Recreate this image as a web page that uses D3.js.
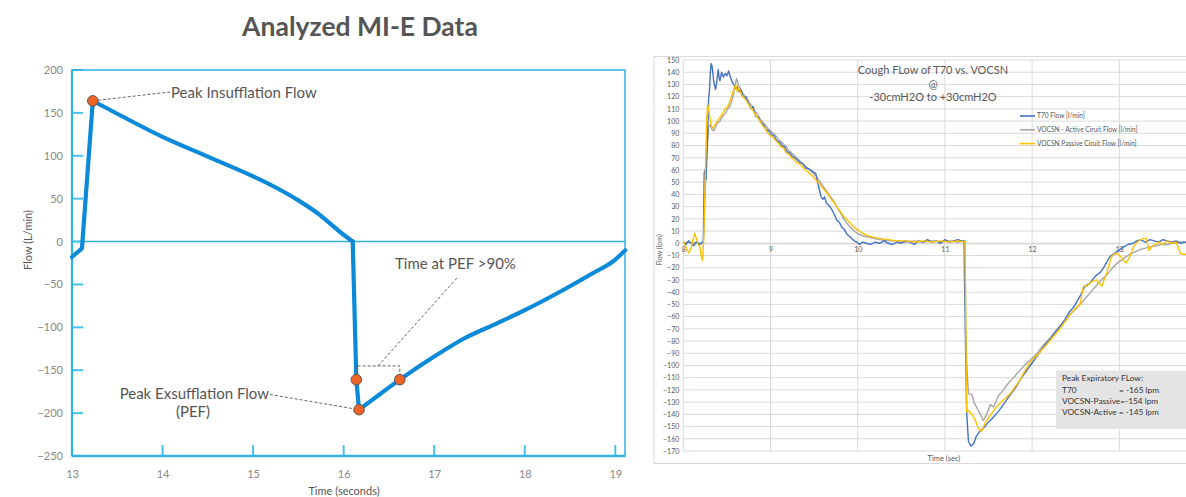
<!DOCTYPE html>
<html><head><meta charset="utf-8">
<script src="https://cdn.jsdelivr.net/npm/d3@7"></script>
<style>html,body{margin:0;padding:0;background:#fff;}svg{display:block;}</style>
</head><body>
<svg id="c" width="1186" height="497"></svg>
<script>
// ---------- Left chart data (Analyzed MI-E Data) ----------
const mieTitle = "Analyzed MI-E Data";
const mieTime = [13.0, 13.11, 13.23, 13.5, 14.0, 14.5, 15.0, 15.25, 15.5, 15.75, 15.95, 16.1, 16.14, 16.17, 16.4, 16.62, 17.0, 17.33, 17.7, 18.0, 18.45, 18.75, 19.0, 19.11];
const mieFlow = [-18, -8, 164, 149, 122, 99, 76, 63, 48, 30, 12, 0, -161, -196, -178, -161, -134, -113, -95, -80, -55, -37, -21, -10];
const mieMarkerIdx = [2, 12, 13, 15];
const mieXTicks = [13, 14, 15, 16, 17, 18, 19];
const mieYTicks = [200, 150, 100, 50, 0, -50, -100, -150, -200, -250];
const mieLabels = ["Peak Insufflation Flow", "Peak Exsufflation Flow", "(PEF)", "Time at PEF >90%"];

// ---------- Right chart data (Cough Flow T70 vs VOCSN) ----------
const coughTitle = ["Cough FLow of T70 vs. VOCSN", "@", "-30cmH2O to +30cmH2O"];
const coughLegend = ["T70 Flow [l/min]", "VOCSN - Active Ciruit  Flow [l/min]", "VOCSN Passive Ciruit  Flow [l/min]"];
const coughNote = ["Peak Expiratory FLow:", "T70", "= -165 lpm", "VOCSN-Passive=-154 lpm", "VOCSN-Active  = -145 lpm"];
const coughXTicks = [8, 9, 10, 11, 12, 13];
const coughYTicks = d3.range(150, -171, -10);
const t70 = [[8.00,1],[8.03,-1],[8.06,2],[8.09,0],[8.12,-2],[8.15,1],[8.18,-1],[8.21,0],[8.23,2],[8.24,58],[8.25,60],[8.26,52],[8.27,70],[8.28,90],[8.29,118],[8.30,125],[8.31,140],[8.32,147],[8.33,145],[8.35,132],[8.37,126],[8.38,130],[8.40,142],[8.41,136],[8.42,133],[8.44,140],[8.46,136],[8.48,139],[8.50,137],[8.52,141],[8.54,136],[8.56,132],[8.58,130],[8.60,127],[8.62,128],[8.64,124],[8.66,126],[8.68,121],[8.70,119],[8.72,120],[8.75,114],[8.78,110],[8.80,112],[8.83,104],[8.86,103],[8.89,99],[8.92,97],[8.95,93],[8.98,92],[9.01,89],[9.04,88],[9.07,84],[9.10,83],[9.13,80],[9.16,79],[9.19,75],[9.22,74],[9.25,71],[9.28,70],[9.31,68],[9.34,66],[9.37,65],[9.40,62],[9.43,61],[9.46,60],[9.50,58],[9.52,57],[9.54,50],[9.56,44],[9.58,38],[9.60,36],[9.62,38],[9.64,33],[9.67,31],[9.70,28],[9.73,24],[9.76,19],[9.79,17],[9.82,13],[9.85,11],[9.87,8],[9.90,6],[9.93,4],[9.96,2],[9.99,1],[10.02,-1],[10.06,1],[10.10,0],[10.15,-1],[10.20,1],[10.25,0],[10.30,2],[10.35,0],[10.40,-1],[10.45,1],[10.50,0],[10.55,2],[10.60,1],[10.65,-1],[10.70,2],[10.75,1],[10.80,3],[10.85,1],[10.90,2],[10.95,0],[11.00,3],[11.05,1],[11.10,2],[11.15,3],[11.19,2],[11.22,2],[11.225,-30],[11.23,-52],[11.24,-100],[11.25,-139],[11.27,-162],[11.30,-166],[11.33,-164],[11.36,-158],[11.40,-154],[11.43,-152],[11.46,-150],[11.49,-147],[11.52,-145],[11.56,-142],[11.61,-138],[11.66,-133],[11.71,-128],[11.76,-123],[11.82,-117],[11.88,-110],[11.94,-104],[12.00,-98],[12.05,-93],[12.10,-88],[12.15,-83],[12.20,-79],[12.26,-73],[12.32,-68],[12.38,-62],[12.43,-56],[12.48,-52],[12.52,-47],[12.56,-42],[12.60,-36],[12.63,-34],[12.66,-33],[12.70,-29],[12.74,-26],[12.78,-24],[12.82,-20],[12.86,-15],[12.89,-11],[12.93,-9],[12.97,-7],[13.01,-5],[13.05,-3],[13.10,-1],[13.16,0],[13.20,2],[13.24,3],[13.30,1],[13.35,3],[13.40,2],[13.45,1],[13.50,3],[13.55,2],[13.60,1],[13.65,2],[13.70,0],[13.77,1]];
const vocsnActive = [[8.00,0],[8.05,1],[8.10,0],[8.15,1],[8.20,0],[8.23,1],[8.25,40],[8.27,75],[8.29,95],[8.31,97],[8.33,93],[8.35,92],[8.37,95],[8.39,98],[8.42,100],[8.45,104],[8.48,106],[8.51,110],[8.54,113],[8.57,120],[8.59,128],[8.61,135],[8.63,130],[8.65,127],[8.67,124],[8.70,121],[8.73,118],[8.76,115],[8.79,112],[8.82,108],[8.85,106],[8.88,102],[8.91,99],[8.94,97],[8.97,94],[9.00,92],[9.03,90],[9.06,88],[9.09,85],[9.12,83],[9.15,81],[9.18,79],[9.21,76],[9.24,74],[9.27,72],[9.30,70],[9.33,68],[9.36,66],[9.40,63],[9.44,61],[9.48,58],[9.52,55],[9.56,51],[9.60,47],[9.64,43],[9.68,39],[9.72,35],[9.76,30],[9.80,25],[9.84,20],[9.88,16],[9.92,13],[9.96,10],[10.00,8],[10.06,6],[10.12,5],[10.18,4],[10.25,3],[10.35,2],[10.45,2],[10.55,1],[10.65,2],[10.75,1],[10.85,2],[10.95,1],[11.05,2],[11.15,1],[11.23,2],[11.24,-68],[11.25,-98],[11.27,-123],[11.31,-124],[11.34,-131],[11.37,-135],[11.40,-139],[11.44,-145],[11.48,-140],[11.52,-132],[11.56,-134],[11.61,-125],[11.66,-121],[11.71,-116],[11.76,-112],[11.80,-109],[11.87,-103],[11.94,-98],[12.00,-94],[12.06,-90],[12.12,-84],[12.20,-78],[12.26,-73],[12.32,-68],[12.38,-63],[12.44,-58],[12.50,-54],[12.55,-50],[12.60,-46],[12.66,-41],[12.72,-36],[12.78,-31],[12.84,-27],[12.89,-23],[12.95,-18],[13.00,-15],[13.06,-12],[13.12,-9],[13.18,-7],[13.24,-5],[13.30,-4],[13.35,-3],[13.42,-2],[13.47,-1],[13.55,-1],[13.62,0],[13.70,1],[13.77,1]];
const vocsnPassive = [[8.00,2],[8.03,-3],[8.06,-8],[8.09,-4],[8.11,3],[8.13,8],[8.15,4],[8.17,-1],[8.19,-3],[8.21,-12],[8.22,-14],[8.235,5],[8.25,49],[8.27,104],[8.28,114],[8.30,105],[8.32,96],[8.34,94],[8.36,97],[8.38,99],[8.40,101],[8.42,103],[8.45,106],[8.48,110],[8.51,112],[8.54,117],[8.56,122],[8.58,126],[8.60,130],[8.62,124],[8.64,127],[8.67,121],[8.70,119],[8.73,116],[8.76,112],[8.79,110],[8.82,106],[8.85,103],[8.88,100],[8.91,96],[8.94,94],[8.97,90],[9.00,88],[9.03,87],[9.06,84],[9.09,82],[9.12,79],[9.15,78],[9.18,74],[9.21,73],[9.24,70],[9.27,69],[9.30,66],[9.33,65],[9.36,63],[9.40,60],[9.44,58],[9.48,55],[9.52,52],[9.56,49],[9.60,45],[9.64,42],[9.68,38],[9.72,34],[9.76,30],[9.80,26],[9.84,22],[9.88,19],[9.92,16],[9.96,13],[10.00,11],[10.06,8],[10.12,6],[10.18,5],[10.25,4],[10.35,3],[10.45,2],[10.55,2],[10.65,1],[10.75,2],[10.85,1],[10.95,2],[11.05,1],[11.15,2],[11.23,1],[11.24,-70],[11.25,-138],[11.27,-137],[11.31,-140],[11.35,-145],[11.38,-151],[11.42,-154],[11.46,-147],[11.50,-143],[11.54,-139],[11.58,-135],[11.63,-131],[11.69,-127],[11.75,-123],[11.80,-118],[11.86,-112],[11.92,-104],[11.97,-98],[12.02,-94],[12.08,-90],[12.14,-85],[12.20,-80],[12.26,-75],[12.32,-70],[12.38,-64],[12.44,-58],[12.50,-53],[12.55,-50],[12.57,-42],[12.59,-35],[12.63,-35],[12.67,-32],[12.70,-31],[12.74,-30],[12.77,-33],[12.80,-35],[12.83,-29],[12.86,-23],[12.89,-16],[12.91,-11],[12.94,-9],[12.97,-8],[13.00,-10],[13.03,-12],[13.06,-15],[13.08,-16],[13.12,-11],[13.15,-5],[13.18,-1],[13.21,1],[13.24,3],[13.28,4],[13.31,4],[13.34,-6],[13.37,-3],[13.41,-1],[13.45,1],[13.50,-1],[13.55,2],[13.60,0],[13.65,1],[13.70,-8],[13.73,-9],[13.77,-9]];

const svg = d3.select("#c");

// ================= LEFT CHART =================
(function(){
  const L = {x0:72, x1:625, y0:70, y1:456};
  const x = d3.scaleLinear().domain([13, 19]).range([72, 615.3]);
  const y = d3.scaleLinear().domain([-250, 200]).range([L.y1, L.y0]);
  const g = svg.append("g");
  const cyan = "#2fb3e0";

  g.append("text").attr("x", 360).attr("y", 36).attr("text-anchor","middle")
    .style("font-family","Lato").style("font-weight","700").style("font-size","26.5px").attr("fill","#555")
    .text(mieTitle);

  g.append("line").attr("x1",L.x0).attr("x2",L.x1).attr("y1",y(0)).attr("y2",y(0))
    .attr("stroke",cyan).attr("stroke-width",1.5);

  const yAx = g.append("g").attr("transform",`translate(${L.x0},0)`)
    .call(d3.axisLeft(y).tickValues(mieYTicks).tickSize(0).tickPadding(9));
  yAx.select(".domain").remove();
  yAx.selectAll("text").style("font-family","Lato").style("font-size","11px").attr("fill","#888");
  g.selectAll(".ytk").data(mieYTicks).join("line").attr("class","ytk")
    .attr("x1",L.x0).attr("x2",L.x0+11).attr("y1",d=>y(d)).attr("y2",d=>y(d))
    .attr("stroke","#48c2ea").attr("stroke-width",2);

  const xAx = g.append("g").attr("transform",`translate(0,${L.y1})`)
    .call(d3.axisBottom(x).tickValues(mieXTicks).tickFormat(d3.format("d")).tickSize(0).tickPadding(14));
  xAx.select(".domain").remove();
  xAx.selectAll("text").style("font-family","Lato").style("font-size","11px").attr("fill","#888");
  g.selectAll(".xtk").data(mieXTicks.slice(1)).join("line").attr("class","xtk")
    .attr("x1",d=>x(d)).attr("x2",d=>x(d)).attr("y1",L.y1).attr("y2",L.y1-11)
    .attr("stroke","#48c2ea").attr("stroke-width",2);

  g.append("rect").attr("x",L.x0).attr("y",L.y0).attr("width",L.x1-L.x0).attr("height",L.y1-L.y0)
    .attr("fill","none").attr("stroke",cyan).attr("stroke-width",1.5);
  g.append("line").attr("x1",L.x0).attr("x2",L.x1).attr("y1",L.y1).attr("y2",L.y1).attr("stroke",cyan).attr("stroke-width",2.5);
  g.append("line").attr("x1",L.x0).attr("x2",L.x0).attr("y1",L.y0).attr("y2",L.y1).attr("stroke",cyan).attr("stroke-width",2.2);

  g.append("text").attr("transform","translate(32,240) rotate(-90)").attr("text-anchor","middle")
    .style("font-family","Lato").style("font-size","11px").attr("fill","#555").text("Flow (L/min)");
  g.append("text").attr("x",344).attr("y",495).attr("text-anchor","middle")
    .style("font-family","Lato").style("font-size","11px").attr("fill","#555").text("Time (seconds)");

  // series: smooth segments where the trace is smooth, straight where it breaks
  const pts = mieTime.map((t,i)=>[t, mieFlow[i]]);
  const lin = d3.line().x(d=>x(d[0])).y(d=>y(d[1]));
  const smooth = d3.line().x(d=>x(d[0])).y(d=>y(d[1])).curve(d3.curveMonotoneX);
  const style = p => p.attr("fill","none").attr("stroke","#0a8ad8").attr("stroke-width",4.2)
    .attr("stroke-linejoin","round").attr("stroke-linecap","round");
  style(g.append("path").attr("d",lin(pts.slice(0,3))));
  style(g.append("path").attr("d",smooth(pts.slice(2,12))));
  style(g.append("path").attr("d",lin(pts.slice(11,14))));
  style(g.append("path").attr("d",smooth(pts.slice(13))));

  const dash = sel => sel.attr("fill","none").attr("stroke","#666").attr("stroke-width",1).attr("stroke-dasharray","3,2");
  const pPIF = pts[2], pA = pts[12], pPEF = pts[13], pB = pts[15];
  dash(g.append("line").attr("x1",x(pPIF[0])).attr("y1",y(pPIF[1])).attr("x2",170).attr("y2",92));
  dash(g.append("line").attr("x1",270).attr("y1",394.5).attr("x2",x(pPEF[0])).attr("y2",y(pPEF[1])));
  const yb = y(-145);
  dash(g.append("path").attr("d",`M${x(pA[0])},${y(pA[1])}V${yb}H${x(pB[0])}V${y(pB[1])}`));
  dash(g.append("line").attr("x1",378).attr("y1",yb).attr("x2",457).attr("y2",278));

  const txt = (s,xx,yy,anchor) => g.append("text").attr("x",xx).attr("y",yy).attr("text-anchor",anchor||"start")
    .style("font-family","Lato").style("font-size","15px").attr("fill","#555").text(s);
  txt(mieLabels[0], 171, 97.5);
  txt(mieLabels[1], 269, 398.5, "end");
  txt(mieLabels[2], 193, 417, "middle");
  txt(mieLabels[3], 395, 268.5);

  g.selectAll(".mk").data(mieMarkerIdx.map(i=>pts[i])).join("circle").attr("class","mk")
    .attr("cx",d=>x(d[0])).attr("cy",d=>y(d[1])).attr("r",5.3)
    .attr("fill","#ec6426").attr("stroke","#5a5a5a").attr("stroke-width",1);
})();

// ================= RIGHT CHART =================
(function(){
  const x = d3.scaleLinear().domain([8, 13]).range([683.3, 1119.3]);
  const y = d3.scaleLinear().domain([-170, 150]).range([451, 60]);
  const g = svg.append("g");
  const font = "Lato";

  g.append("rect").attr("x",654).attr("y",56.5).attr("width",540).attr("height",407)
    .attr("fill","#fff").attr("stroke","#d9d9d9").attr("stroke-width",1);

  g.selectAll(".hg").data(coughYTicks).join("line").attr("class","hg")
    .attr("x1",683.3).attr("x2",1186).attr("y1",d=>y(d)).attr("y2",d=>y(d))
    .attr("stroke","#d9d9d9").attr("stroke-width",1);
  g.selectAll(".vg").data(coughXTicks).join("line").attr("class","vg")
    .attr("x1",d=>x(d)).attr("x2",d=>x(d)).attr("y1",y(150)).attr("y2",y(-170))
    .attr("stroke","#d9d9d9").attr("stroke-width",1);

  const yAx = g.append("g").attr("transform","translate(683.3,0)")
    .call(d3.axisLeft(y).tickValues(coughYTicks).tickSize(0).tickPadding(4));
  yAx.select(".domain").remove();
  yAx.selectAll("text").style("font-family",font).style("font-size","7px").attr("fill","#595959");
  const xAx = g.append("g").attr("transform",`translate(0,${y(0)})`)
    .call(d3.axisBottom(x).tickValues(coughXTicks).tickFormat(d3.format("d")).tickSize(0).tickPadding(4));
  xAx.select(".domain").attr("stroke","#d0d0d0");
  xAx.selectAll("text").style("font-family",font).style("font-size","7px").attr("fill","#595959");

  g.append("text").attr("transform","translate(662,250) rotate(-90)").attr("text-anchor","middle")
    .style("font-family",font).style("font-size","7px").attr("fill","#595959").text("Flow (lpm)");
  g.append("text").attr("x",944).attr("y",461).attr("text-anchor","middle")
    .style("font-family",font).style("font-size","7.5px").attr("fill","#595959").text("Time (sec)");

  coughTitle.forEach((s,i)=>g.append("text").attr("x",933).attr("y",74+i*13.5).attr("text-anchor","middle")
    .style("font-family",font).style("font-size","11px").attr("fill","#595959").text(s));

  g.append("clipPath").attr("id","rc").append("rect").attr("x",683.3).attr("y",56).attr("width",510).attr("height",400);
  const line = d3.line().x(d=>x(d[0])).y(d=>y(d[1]));
  const series = [
    {d:vocsnActive, c:"#a5a5a5"},
    {d:t70, c:"#4472c4"},
    {d:vocsnPassive, c:"#ffc000"}
  ];
  const sg = g.append("g").attr("clip-path","url(#rc)");
  series.forEach(s=>sg.append("path").attr("d",line(s.d)).attr("fill","none").attr("stroke",s.c)
    .attr("stroke-width",1.4).attr("stroke-linejoin","round"));

  const legColors = ["#4472c4","#a5a5a5","#ffc000"];
  coughLegend.forEach((s,i)=>{
    const yy = 116 + i*13.8;
    g.append("line").attr("x1",1020).attr("x2",1035).attr("y1",yy).attr("y2",yy).attr("stroke",legColors[i]).attr("stroke-width",1.6);
    g.append("text").attr("x",1037).attr("y",yy+2.3).style("font-family",font).style("font-size","6.6px")
      .attr("fill","#595959").text(s);
  });

  g.append("rect").attr("x",1056).attr("y",370.5).attr("width",140).attr("height",58.5).attr("fill","#e4e4e4");
  const nt = (s,xx,yy)=>g.append("text").attr("x",xx).attr("y",yy).style("font-family",font).style("font-size","8.3px")
    .attr("fill","#333").text(s);
  nt(coughNote[0],1062,381.3);
  nt(coughNote[1],1062,392.5);
  nt(coughNote[2],1119,392.5);
  nt(coughNote[3],1062,403.8);
  nt(coughNote[4],1062,415.3);
})();
</script>
</body></html>
